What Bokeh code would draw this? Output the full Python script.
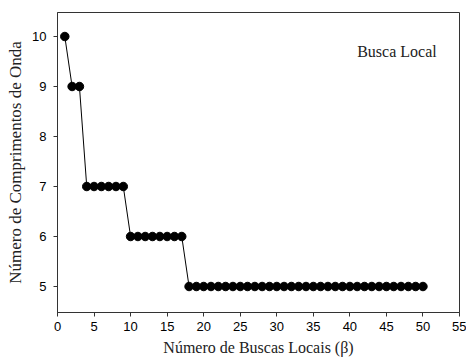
from bokeh.plotting import figure
from bokeh.models import Range1d, Label, FixedTicker
from bokeh.embed import file_html
from bokeh.resources import INLINE

buscas = list(range(1, 51))
comprimentos = [10, 9, 9] + [7] * 6 + [6] * 8 + [5] * 33
x_ticks = [0, 5, 10, 15, 20, 25, 30, 35, 40, 45, 50, 55]
y_ticks = [5, 6, 7, 8, 9, 10]
x_title = "Número de Buscas Locais (β)"
y_title = "Número de Comprimentos de Onda"
legend_text = "Busca Local"

p = figure(width=466, height=360, output_backend="svg", toolbar_location=None,
           x_range=Range1d(0, 55), y_range=Range1d(4.48, 10.48),
           min_border_left=57, min_border_top=12, min_border_right=7, min_border_bottom=48)
p.title.visible = False
p.background_fill_color = "white"
p.border_fill_color = "white"
p.outline_line_color = "#333333"
p.outline_line_width = 1
p.xgrid.visible = False
p.ygrid.visible = False

p.line(buscas, comprimentos, line_color="black", line_width=1)
p.scatter(buscas, comprimentos, size=8.5, fill_color="black", line_color="black")

for ax, ticks in ((p.xaxis[0], x_ticks), (p.yaxis[0], y_ticks)):
    ax.ticker = FixedTicker(ticks=ticks)
    ax.minor_tick_line_color = None
    ax.major_tick_in = 0
    ax.major_tick_out = 4
    ax.axis_line_color = "#333333"
    ax.major_tick_line_color = "#333333"
    ax.major_label_text_font = "Liberation Sans"
    ax.major_label_text_font_size = "13px"
    ax.major_label_text_color = "black"
    ax.axis_label_text_font = "Liberation Serif"
    ax.axis_label_text_font_style = "normal"
    ax.axis_label_text_color = "#222222"

p.xaxis.axis_label = x_title
p.xaxis.axis_label_text_font_size = "16px"
p.xaxis.major_label_standoff = 5
p.xaxis.axis_label_standoff = 5

p.yaxis.axis_label = y_title
p.yaxis.axis_label_text_font_size = "17px"
p.yaxis.major_label_standoff = 7
p.yaxis.axis_label_standoff = 4

p.add_layout(Label(x=41.0, y=9.7, text=legend_text, text_font="Liberation Serif",
                   text_font_size="16px", text_baseline="middle", text_color="#222222"))

open("out.html", "w").write(file_html(p, INLINE))
